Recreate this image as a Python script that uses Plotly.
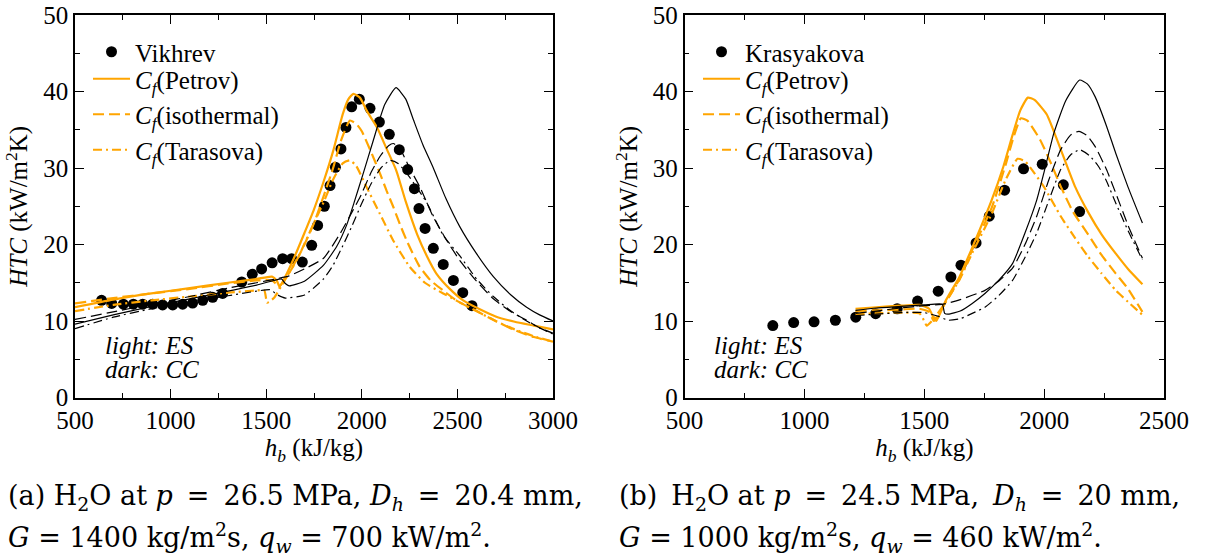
import plotly.graph_objects as go

# ---------------- data: panel (a) ----------------
vik_h = [639, 692, 753, 805, 854, 906, 958, 1011, 1063, 1115, 1168, 1220, 1272,
         1372, 1427, 1476, 1531, 1586, 1633, 1689, 1738, 1769, 1804, 1834, 1862,
         1891, 1917, 1947, 1987, 2043, 2092, 2144, 2196, 2240, 2275, 2299, 2331,
         2374, 2426, 2479, 2528, 2576]
vik_htc = [12.7, 12.3, 12.2, 12.2, 12.2, 12.2, 12.1, 12.1, 12.2, 12.35, 12.7, 13.1, 13.6,
           15.1, 16.1, 16.8, 17.6, 18.15, 18.15, 17.7, 19.9, 22.5, 25.0, 27.7, 30.1,
           32.5, 35.3, 38.0, 39.0, 37.8, 36.0, 34.4, 32.4, 29.8, 27.3, 24.7, 22.1,
           19.5, 17.4, 15.3, 13.7, 12.0]

a_es_pet_h = [500, 700, 900, 1100, 1300, 1450, 1530, 1555, 1570, 1600, 1650, 1700, 1750,
              1800, 1850, 1900, 1930, 1956, 1990, 2030, 2080, 2130, 2180, 2230, 2290,
              2340, 2390, 2460, 2530, 2620, 2700, 2800, 2900, 3000]
a_es_pet_v = [11.8, 12.8, 13.6, 14.3, 15.0, 15.5, 15.8, 15.3, 14.5, 15.8, 18.5, 21.5, 24.6,
              28.2, 32.2, 37.0, 39.0, 39.7, 39.2, 37.3, 35.3, 32.5, 29.7, 25.6, 21.3,
              18.5, 16.2, 14.2, 12.7, 11.5, 10.6, 9.9, 9.4, 8.9]

a_es_iso_h = [500, 700, 900, 1100, 1300, 1450, 1530, 1550, 1565, 1600, 1650, 1700, 1750,
              1800, 1850, 1890, 1938, 1970, 2000, 2050, 2095, 2130, 2165, 2200, 2235,
              2300, 2360, 2430, 2500, 2600, 2700, 2800, 2900, 3000]
a_es_iso_v = [12.3, 13.0, 13.6, 14.2, 14.9, 15.3, 15.3, 14.9, 14.4, 15.5, 17.5, 20.0, 22.8,
              26.3, 30.0, 33.5, 36.2, 35.8, 34.8, 32.0, 29.3, 27.0, 24.9, 22.6, 20.5,
              17.2, 15.3, 13.9, 12.6, 11.3, 10.0, 8.8, 7.9, 7.3]

a_es_tar_h = [500, 700, 900, 1100, 1300, 1450, 1490, 1505, 1540, 1580, 1620, 1680, 1740,
              1800, 1850, 1900, 1938, 1970, 2025, 2095, 2165, 2250, 2330, 2426, 2500,
              2600, 2700, 2800, 2900, 3000]
a_es_tar_v = [11.3, 12.1, 12.7, 13.2, 13.7, 14.0, 14.0, 12.4, 13.0, 14.6, 16.3, 19.0, 22.3,
              25.5, 28.5, 30.6, 31.0, 30.3, 27.5, 24.0, 20.5, 17.1, 15.0, 13.6, 12.6,
              11.3, 10.0, 8.9, 8.0, 7.3]

a_cc_pet_h = [500, 700, 900, 1100, 1300, 1450, 1540, 1580, 1600, 1620, 1700, 1800, 1870,
              1920, 1960, 2010, 2060, 2120, 2179, 2230, 2270, 2320, 2374, 2440, 2513,
              2600, 2688, 2780, 2862, 2930, 3000]
a_cc_pet_v = [9.6, 10.8, 11.9, 12.9, 13.9, 14.7, 15.3, 15.5, 14.9, 14.6, 15.2, 17.3, 19.8,
              22.5, 25.5, 29.5, 33.6, 38.3, 40.5, 39.0, 36.3, 33.0, 30.0, 26.0, 22.3,
              18.8, 15.8, 13.4, 11.8, 10.8, 10.0]

a_cc_iso_h = [500, 700, 900, 1100, 1300, 1450, 1550, 1620, 1700, 1800, 1886, 1950, 1991,
              2050, 2095, 2140, 2165, 2200, 2250, 2304, 2374, 2440, 2513, 2600, 2688,
              2780, 2862, 2930, 3000]
a_cc_iso_v = [10.2, 11.2, 12.2, 13.2, 14.3, 15.0, 15.5, 15.9, 16.8, 18.2, 21.4, 24.3, 26.2,
              29.5, 31.5, 32.9, 33.2, 32.5, 30.0, 27.5, 23.6, 20.7, 17.9, 15.2, 12.9,
              11.2, 10.1, 9.1, 8.4]

a_cc_tar_h = [500, 700, 900, 1100, 1300, 1450, 1520, 1560, 1600, 1700, 1800, 1850, 1900,
              1950, 2000, 2050, 2100, 2148, 2190, 2250, 2339, 2426, 2513, 2600, 2688,
              2780, 2862, 2930, 3000]
a_cc_tar_v = [9.0, 10.5, 11.6, 12.5, 13.3, 13.9, 14.1, 13.4, 13.0, 13.4, 15.5, 17.3, 19.8,
              22.5, 25.4, 28.0, 30.0, 31.0, 30.6, 28.8, 25.5, 21.2, 18.5, 15.5, 13.2,
              11.3, 10.0, 9.1, 8.3]

# ---------------- data: panel (b) ----------------
kra_h = [868, 955, 1040, 1129, 1214, 1297, 1387, 1472, 1558, 1611, 1653, 1716, 1771,
         1835, 1914, 1992, 2080, 2148]
kra_htc = [9.4, 9.8, 9.9, 10.1, 10.5, 10.95, 11.6, 12.6, 13.9, 15.75, 17.3, 20.2, 23.7,
           27.1, 29.9, 30.5, 27.8, 24.3]

b_es_pet_h = [1213, 1300, 1400, 1480, 1520, 1540, 1550, 1590, 1647, 1700, 1781, 1830, 1868,
              1900, 1932, 1960, 2011, 2050, 2083, 2130, 2184, 2240, 2299, 2350, 2410]
b_es_pet_v = [11.6, 11.8, 12.0, 12.1, 11.6, 10.3, 10.0, 12.7, 15.8, 19.6, 25.8, 30.2, 34.3,
              37.5, 39.2, 38.9, 37.0, 34.0, 31.3, 27.5, 24.2, 21.3, 18.8, 16.8, 14.8]

b_es_iso_h = [1213, 1300, 1400, 1480, 1520, 1540, 1590, 1647, 1700, 1781, 1840, 1870, 1903,
              1930, 1983, 2030, 2069, 2120, 2184, 2240, 2299, 2350, 2410]
b_es_iso_v = [11.3, 11.4, 11.5, 11.6, 11.2, 10.0, 12.5, 15.5, 19.3, 24.8, 30.5, 33.8, 36.5,
              36.2, 33.7, 30.5, 27.6, 24.3, 21.3, 18.6, 16.2, 14.2, 11.2]

b_es_tar_h = [1213, 1300, 1400, 1480, 1500, 1510, 1540, 1590, 1647, 1700, 1781, 1840, 1889,
              1920, 1960, 2000, 2069, 2130, 2184, 2240, 2299, 2350, 2410]
b_es_tar_v = [10.9, 11.0, 11.1, 11.0, 10.0, 9.4, 10.3, 12.5, 15.4, 18.9, 24.0, 28.5, 31.2,
              30.9, 29.3, 27.5, 23.7, 20.8, 18.4, 16.2, 14.0, 12.5, 10.8]

b_cc_pet_h = [1213, 1300, 1400, 1500, 1575, 1585, 1600, 1650, 1700, 1753, 1810, 1868, 1920,
              1969, 2000, 2040, 2090, 2148, 2180, 2213, 2260, 2299, 2350, 2410]
b_cc_pet_v = [11.4, 11.7, 11.9, 12.1, 12.2, 11.0, 10.9, 11.3, 12.3, 13.6, 15.3, 17.5, 21.5,
              25.8, 29.5, 34.5, 38.8, 41.5, 41.0, 39.3, 35.5, 31.9, 27.5, 22.8]

b_cc_iso_h = [1213, 1300, 1400, 1500, 1580, 1650, 1753, 1810, 1868, 1920, 1969, 2020, 2069,
              2110, 2145, 2180, 2213, 2260, 2299, 2350, 2410]
b_cc_iso_v = [11.0, 11.3, 11.7, 12.0, 12.2, 12.8, 14.0, 15.2, 16.9, 20.0, 23.7, 28.5, 32.4,
              34.3, 34.8, 34.2, 32.8, 29.8, 26.7, 22.5, 18.2]

b_cc_tar_h = [1213, 1300, 1400, 1500, 1560, 1600, 1650, 1700, 1753, 1810, 1868, 1920, 1969,
              2020, 2069, 2110, 2148, 2190, 2227, 2260, 2299, 2350, 2410]
b_cc_tar_v = [10.7, 10.9, 11.1, 11.1, 10.6, 10.1, 10.3, 11.0, 11.8, 13.3, 15.3, 18.3, 21.5,
              25.8, 29.8, 31.7, 32.4, 31.6, 30.2, 28.3, 25.4, 21.8, 18.0]

# ---------------- styling ----------------
ORANGE = "#FFA500"
FONT = "Liberation Serif"
CAPFONT = "DejaVu Serif"
W, H = 1206, 559

DASH = "11px,5px"
DASHDOT = "9px,4px,2px,4px"

fig = go.Figure()


def add_line(x, y, color, width, dash, xa, ya, name=None, legend=None, show=False):
    fig.add_trace(go.Scatter(
        x=x, y=y, mode="lines", name=name, showlegend=show,
        legend=legend if legend else "legend",
        line=dict(color=color, width=width, dash=dash, shape="spline", smoothing=0.5),
        xaxis=xa, yaxis=ya, hoverinfo="skip"))


# panel (a)
fig.add_trace(go.Scatter(x=vik_h, y=vik_htc, mode="markers", name="Vikhrev",
                         marker=dict(color="black", size=11), xaxis="x", yaxis="y",
                         legend="legend"))
add_line(a_es_pet_h, a_es_pet_v, ORANGE, 2.2, "solid", "x", "y",
         "<i>C</i><sub><i>f</i></sub>(Petrov)", "legend3", True)
add_line(a_es_iso_h, a_es_iso_v, ORANGE, 2.2, DASH, "x", "y",
         "<i>C</i><sub><i>f</i></sub>(isothermal)", "legend3", True)
add_line(a_es_tar_h, a_es_tar_v, ORANGE, 2.2, DASHDOT, "x", "y",
         "<i>C</i><sub><i>f</i></sub>(Tarasova)", "legend3", True)
add_line(a_cc_pet_h, a_cc_pet_v, "black", 1.2, "solid", "x", "y")
add_line(a_cc_iso_h, a_cc_iso_v, "black", 1.2, DASH, "x", "y")
add_line(a_cc_tar_h, a_cc_tar_v, "black", 1.2, DASHDOT, "x", "y")

# panel (b)
fig.add_trace(go.Scatter(x=kra_h, y=kra_htc, mode="markers", name="Krasyakova",
                         marker=dict(color="black", size=11), xaxis="x2", yaxis="y2",
                         legend="legend2"))
add_line(b_es_pet_h, b_es_pet_v, ORANGE, 2.2, "solid", "x2", "y2",
         "<i>C</i><sub><i>f</i></sub>(Petrov)", "legend4", True)
add_line(b_es_iso_h, b_es_iso_v, ORANGE, 2.2, DASH, "x2", "y2",
         "<i>C</i><sub><i>f</i></sub>(isothermal)", "legend4", True)
add_line(b_es_tar_h, b_es_tar_v, ORANGE, 2.2, DASHDOT, "x2", "y2",
         "<i>C</i><sub><i>f</i></sub>(Tarasova)", "legend4", True)
add_line(b_cc_pet_h, b_cc_pet_v, "black", 1.2, "solid", "x2", "y2")
add_line(b_cc_iso_h, b_cc_iso_v, "black", 1.2, DASH, "x2", "y2")
add_line(b_cc_tar_h, b_cc_tar_v, "black", 1.2, DASHDOT, "x2", "y2")


def xaxis_cfg(rng, dom):
    return dict(range=rng, domain=dom, dtick=500, tick0=500,
                showline=True, linecolor="black", linewidth=1.6, mirror="allticks",
                ticks="inside", ticklen=9, tickwidth=1.3, tickcolor="black",
                minor=dict(ticks="inside", ticklen=5, dtick=250, tickcolor="black", tickwidth=1.3),
                showgrid=False, zeroline=False, automargin=False,
                tickfont=dict(family=FONT, size=25, color="black"),
                title=dict(text="<i>h</i><sub><i>b</i></sub> (kJ/kg)",
                           font=dict(family=FONT, size=25, color="black"), standoff=3))


def yaxis_cfg(dom):
    return dict(range=[0, 50], domain=dom, dtick=10, tick0=0,
                showline=True, linecolor="black", linewidth=1.6, mirror="allticks",
                ticks="inside", ticklen=9, tickwidth=1.3, tickcolor="black",
                minor=dict(ticks="inside", ticklen=5, dtick=5, tickcolor="black", tickwidth=1.3),
                showgrid=False, zeroline=False, automargin=False,
                tickfont=dict(family=FONT, size=25, color="black"),
                title=dict(text="<i>HTC</i> (kW/m<sup>2</sup>K)",
                           font=dict(family=FONT, size=25, color="black"), standoff=8))


def legend_cfg(x, ytop):
    return dict(x=x / W, y=1 - ytop / H, xanchor="left", yanchor="top",
                bgcolor="rgba(0,0,0,0)", itemwidth=37, tracegroupgap=0,
                font=dict(family=FONT, size=25, color="black"))


ydom = [1 - 397.5 / H, 1 - 15 / H]
fig.update_layout(
    width=W, height=H, margin=dict(l=0, r=0, t=0, b=0),
    paper_bgcolor="white", plot_bgcolor="white",
    font=dict(family=FONT, size=25, color="black"),
    xaxis=dict(xaxis_cfg([500, 3000], [75 / W, 553 / W]), anchor="y"),
    yaxis=dict(yaxis_cfg(ydom), anchor="x"),
    xaxis2=dict(xaxis_cfg([500, 2500], [684.6 / W, 1164 / W]), anchor="y2"),
    yaxis2=dict(yaxis_cfg(ydom), anchor="x2"),
    legend=legend_cfg(88, 29),
    legend3=legend_cfg(88, 56),
    legend2=legend_cfg(698, 29),
    legend4=legend_cfg(698, 56),
)

notes = [
    (103, 345, "<i>light: ES</i>"), (103, 369, "<i>dark: CC</i>"),
    (712, 345, "<i>light: ES</i>"), (712, 369, "<i>dark: CC</i>"),
]
for x, y, t in notes:
    fig.add_annotation(x=x / W, y=1 - y / H, xref="paper", yref="paper", text=t,
                       showarrow=False, xanchor="left", yanchor="middle",
                       font=dict(family=FONT, size=25, color="black"))

TS = "\u2009"
caps = [
    (6, 497, "(a) H<sub>2</sub>O at <i>p</i> " + TS + "=" + TS + " 26.5 MPa, <i>D<sub>h</sub></i> "
     + TS + "=" + TS + " 20.4 mm,"),
    (6, 537, "<i>G</i> = 1400 kg/m<sup>2</sup>s, <i>q<sub>w</sub></i> = 700 kW/m<sup>2</sup>."),
    (617, 497, "(b)" + TS + " H<sub>2</sub>O at <i>p</i> " + TS + "=" + TS + " 24.5 MPa," + TS
     + " <i>D<sub>h</sub></i> " + TS + "=" + TS + " 20 mm,"),
    (617, 537, "<i>G</i> = 1000 kg/m<sup>2</sup>s, <i>q<sub>w</sub></i> = 460 kW/m<sup>2</sup>."),
]
for x, y, t in caps:
    fig.add_annotation(x=x / W, y=1 - y / H, xref="paper", yref="paper", text=t,
                       showarrow=False, xanchor="left", yanchor="middle",
                       font=dict(family=CAPFONT, size=27, color="black"))

fig.write_html("out.html")
